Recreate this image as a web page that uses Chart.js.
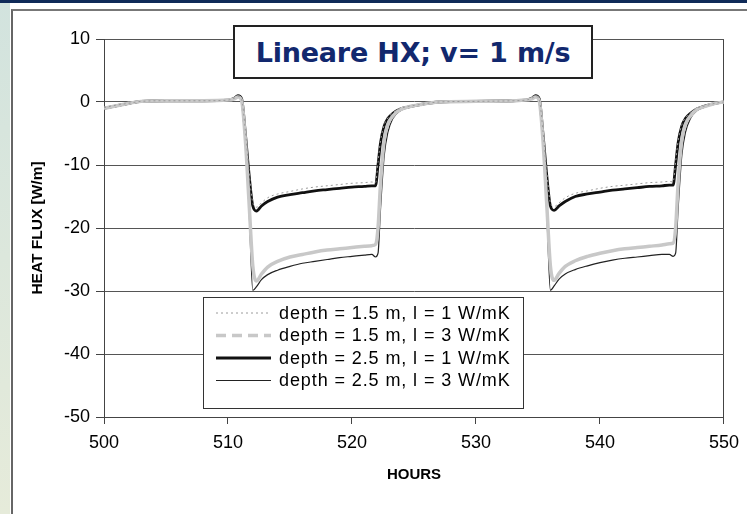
<!DOCTYPE html>
<html>
<head>
<meta charset="utf-8">
<script src="https://cdn.jsdelivr.net/npm/chart.js@4"></script>
<style>
  body { margin: 0; width: 747px; height: 514px; overflow: hidden; background: #fff; position: relative; }
  #strip { position: absolute; left: 0; top: 0; width: 10px; height: 514px; background: linear-gradient(#d2e3de, #e6ebda); }
  #bar { position: absolute; left: 0; top: 0; width: 747px; height: 3px; background: #0f2a58; }
  #frame { position: absolute; left: 11px; top: 9px; right: 0; bottom: 0; border-left: 2px solid #666; border-top: 2px solid #777; }
  #chart { position: absolute; left: 0; top: 0; }
  #title { position: absolute; left: 233px; top: 25px; width: 356px; height: 50px; border: 2px solid #222; background: #fff;
    display: flex; align-items: center; justify-content: center;
    font: bold 27px 'DejaVu Sans', Verdana, sans-serif; color: #12286e; letter-spacing: -0.2px; }
</style>
</head>
<body>
<div id="strip"></div>
<div id="bar"></div>
<div id="frame"></div>
<canvas id="chart" width="747" height="514"></canvas>
<div id="title">Lineare HX; v= 1 m/s</div>
<script>
// ore (asse x)
const hours = [
  500, 501, 502, 503, 505, 508, 510, 510.5,
  510.8, 511.1, 511.4, 511.7, 512.0, 512.3, 512.7, 513.2,
  514, 515, 516, 517, 518, 519, 520, 521, 521.6, 521.9,
  522.1, 522.3, 522.6, 522.9, 523.3, 523.8, 524.5, 525.5, 527,
  530, 533, 534, 534.5,
  534.8, 535.1, 535.4, 535.7, 536.0, 536.3, 536.7, 537.2,
  538, 539, 540, 541, 542, 543, 544, 545, 545.6, 545.9,
  546.1, 546.3, 546.6, 546.9, 547.3, 547.8, 548.5, 549.3, 550
];

// depth = 1.5 m, l = 1 W/mK
const d15l1 = [
  -0.9, -0.5, -0.2, 0.1, 0.2, 0.2, 0.3, 0.6,
  0.9, 0.4, -4.5, -11, -16, -16.7, -16.0, -15.2,
  -14.6, -14.2, -13.8, -13.5, -13.3, -13.1, -12.9, -12.8, -12.7, -12.8,
  -9.5, -6.2, -3.6, -2.5, -1.7, -1.1, -0.7, -0.4, 0,
  0.1, 0.2, 0.3, 0.6,
  0.9, 0.4, -4.5, -11, -16, -16.6, -16.0, -15.2,
  -14.5, -14.1, -13.7, -13.4, -13.2, -13.0, -12.8, -12.7, -12.6, -12.7,
  -9.5, -6.2, -3.6, -2.5, -1.7, -1.0, -0.6, -0.2, 0
];

// depth = 1.5 m, l = 3 W/mK
const d15l3 = [
  -1.0, -0.6, -0.2, 0.1, 0.2, 0.2, 0.3, 0.5,
  0.8, 0.2, -6, -16, -26, -28.4, -27.3, -26.2,
  -25.3, -24.6, -24.2, -23.8, -23.5, -23.3, -23.1, -22.9, -22.8, -22.6,
  -20, -13, -6, -3.5, -2.2, -1.3, -0.8, -0.4, 0,
  0.1, 0.2, 0.3, 0.5,
  0.8, 0.2, -6, -16, -26, -28.3, -27.2, -26.1,
  -25.2, -24.5, -24.0, -23.6, -23.3, -23.1, -22.9, -22.7, -22.5, -22.4,
  -20, -13, -6, -3.5, -2.2, -1.2, -0.7, -0.2, 0
];

// depth = 2.5 m, l = 1 W/mK
const d25l1 = [
  -1.0, -0.6, -0.2, 0.1, 0.2, 0.2, 0.3, 0.6,
  1.0, 0.5, -5, -11.5, -16.5, -17.3, -16.5, -15.8,
  -15.1, -14.7, -14.4, -14.1, -13.9, -13.7, -13.5, -13.4, -13.3, -13.3,
  -10, -6.5, -3.8, -2.6, -1.8, -1.2, -0.8, -0.4, 0,
  0.1, 0.2, 0.3, 0.6,
  1.0, 0.5, -5, -11.5, -16.5, -17.2, -16.5, -15.8,
  -15.0, -14.6, -14.3, -14.0, -13.8, -13.6, -13.4, -13.3, -13.2, -13.2,
  -10, -6.5, -3.8, -2.6, -1.8, -1.1, -0.6, -0.2, 0
];

// depth = 2.5 m, l = 3 W/mK
const d25l3 = [
  -1.1, -0.7, -0.3, 0.0, 0.2, 0.2, 0.3, 0.6,
  1.0, 0.5, -6, -17, -29.9, -29.3, -28.2, -27.4,
  -26.7, -26.1, -25.6, -25.3, -25.0, -24.7, -24.5, -24.3, -24.2, -24.6,
  -24.0, -17, -8.5, -4.8, -2.6, -1.5, -0.9, -0.5, 0,
  0.1, 0.2, 0.3, 0.6,
  1.0, 0.5, -6, -17, -29.9, -29.2, -28.1, -27.3,
  -26.6, -26.0, -25.5, -25.1, -24.8, -24.6, -24.4, -24.2, -24.2, -24.5,
  -24.0, -17, -8.5, -4.8, -2.6, -1.4, -0.8, -0.2, 0
];

const labels = [
  'depth = 1.5 m, l = 1 W/mK',
  'depth = 1.5 m, l = 3 W/mK',
  'depth = 2.5 m, l = 1 W/mK',
  'depth = 2.5 m, l = 3 W/mK'
];

function pts(ys) {
  return hours.map((h, i) => ({ x: h, y: ys[i] }));
}

// legenda disegnata a mano (box bianco con campioni di linea)
const boxLegend = {
  id: 'boxLegend',
  afterDatasetsDraw(chart) {
    const ctx = chart.ctx;
    const x0 = 203, y0 = 297, w = 320, h = 111;
    ctx.save();
    ctx.fillStyle = '#fff';
    ctx.fillRect(x0, y0, w, h);
    ctx.strokeStyle = '#333';
    ctx.lineWidth = 1;
    ctx.strokeRect(x0 + 0.5, y0 + 0.5, w, h);
    const rows = [313, 335.5, 358, 380.5];
    chart.data.datasets.forEach((ds, i) => {
      const y = rows[i];
      ctx.beginPath();
      ctx.strokeStyle = ds.borderColor;
      ctx.lineWidth = ds.borderWidth;
      ctx.setLineDash(ds.legendDash || ds.borderDash || []);
      ctx.moveTo(216, y);
      ctx.lineTo(271, y);
      ctx.stroke();
      ctx.setLineDash([]);
      ctx.fillStyle = '#000';
      ctx.font = '18px "Liberation Sans", Arial, sans-serif';
      ctx.textBaseline = 'middle';
      ctx.letterSpacing = '0.9px';
      ctx.fillText(ds.label, 279, y + 1);
    });
    ctx.restore();
  }
};

new Chart(document.getElementById('chart'), {
  type: 'line',
  data: {
    datasets: [
      { label: labels[0], data: pts(d15l1), borderColor: '#9a9a9a', borderWidth: 1, borderDash: [2, 3] },
      { label: labels[1], data: pts(d15l3), borderColor: '#c8c8c8', borderWidth: 3.5, legendDash: [10, 6] },
      { label: labels[2], data: pts(d25l1), borderColor: '#111', borderWidth: 2.8 },
      { label: labels[3], data: pts(d25l3), borderColor: '#222', borderWidth: 1.2 }
    ]
  },
  options: {
    responsive: false,
    animation: false,
    layout: { padding: { left: 0, top: 39, right: 22, bottom: 0 } },
    elements: {
      point: { radius: 0 },
      line: { cubicInterpolationMode: 'monotone', fill: false }
    },
    plugins: { legend: { display: false }, tooltip: { enabled: false } },
    scales: {
      x: {
        type: 'linear',
        min: 500, max: 550,
        afterFit(s) { s.height = 97; },
        ticks: { stepSize: 10, padding: 8, color: '#000', font: { family: 'Liberation Sans', size: 18 } },
        grid: {
          color: c => (c.tick && c.tick.value === 550 ? '#444' : 'rgba(0,0,0,0)'),
          tickColor: '#444', tickLength: 7, lineWidth: 1
        },
        border: { display: true, color: '#444', width: 1 },
        title: {
          display: true, text: 'HOURS', color: '#000',
          font: { family: 'Liberation Sans', size: 15, weight: 'bold' },
          padding: { top: 0, bottom: 30 }
        }
      },
      y: {
        min: -50, max: 10,
        afterFit(s) { s.width = 104; },
        ticks: { stepSize: 10, padding: 6, color: '#000', font: { family: 'Liberation Sans', size: 18 } },
        grid: { color: '#555', tickColor: '#444', tickLength: 8, lineWidth: 1 },
        border: { display: true, color: '#444', width: 1 },
        title: {
          display: true, text: 'HEAT FLUX [W/m]', color: '#000',
          font: { family: 'Liberation Sans', size: 15.5, weight: 'bold' },
          padding: { top: 28, bottom: 0 }
        }
      }
    }
  },
  plugins: [boxLegend]
});
</script>
</body>
</html>
